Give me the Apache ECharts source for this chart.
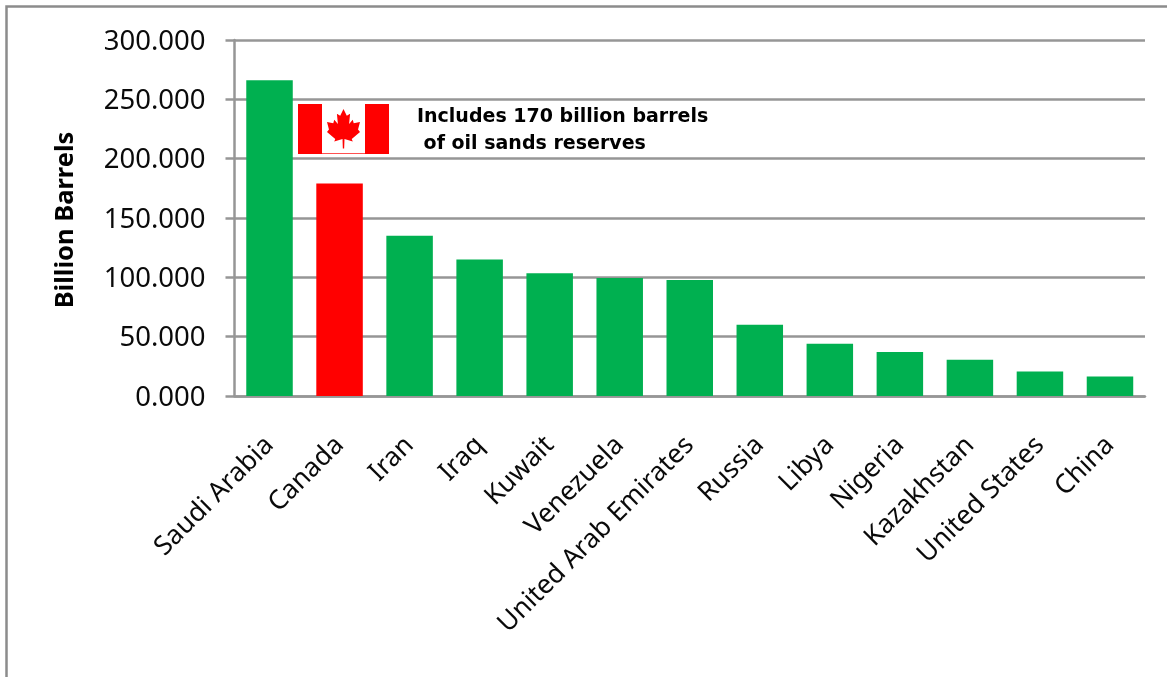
<!DOCTYPE html>
<html>
<head>
<meta charset="utf-8">
<style>html,body{margin:0;padding:0;background:#fff}#chart{width:1167px;height:677px}</style>
<script src="https://cdn.jsdelivr.net/npm/echarts@6/dist/echarts.min.js"></script>
</head>
<body>
<div id="chart"></div>
<script>
const countries = ['Saudi Arabia','Canada','Iran','Iraq','Kuwait','Venezuela','United Arab Emirates','Russia','Libya','Nigeria','Kazakhstan','United States','China'];
const reserves = [266, 179, 135, 115, 103.5, 99.5, 97.8, 60, 44, 37, 30.5, 20.7, 16.5];
const highlightCountry = 'Canada';
const yTicks = [0, 50, 100, 150, 200, 250, 300];
const noteLines = ['Includes 170 billion barrels', ' of oil sands reserves'];

const GREEN = '#00b050', RED = '#ff0000', GREY = '#969696', INK = '#0a0a0a';
const FONT = '"Noto Sans", "Open Sans", sans-serif';

// Maple leaf outline in a 0-100 box; scaled onto the flag's white band
const leafOutline = [[50,0],[40,17],[30,12],[33,38],[22,27],[19,36],[0,33],[6,52],[0,58],[25,76],[22,82],[47,76],[48,100],[52,100],[53,76],[78,82],[75,76],[100,58],[94,52],[100,33],[81,36],[78,27],[67,38],[70,12],[60,17]];
const leafBox = {x: 327, y: 109, width: 33, height: 39.5};
const leafPoints = leafOutline.map(([px, py]) => [
  leafBox.x + px / 100 * leafBox.width,
  leafBox.y + py / 100 * leafBox.height
]);

const chart = echarts.init(document.getElementById('chart'), null, {renderer: 'canvas'});
chart.setOption({
  animation: false,
  backgroundColor: '#fff',
  grid: {left: 234.5, right: 22, top: 40, bottom: 281, containLabel: false},
  xAxis: {
    type: 'category',
    data: countries,
    axisLine: {lineStyle: {color: GREY, width: 2.5}},
    axisTick: {show: false},
    axisLabel: {
      rotate: 45, interval: 0, margin: 45, color: INK, fontFamily: FONT, fontSize: 26.5
    }
  },
  yAxis: {
    type: 'value',
    min: yTicks[0],
    max: yTicks[yTicks.length - 1],
    interval: yTicks[1] - yTicks[0],
    name: 'Billion Barrels',
    nameLocation: 'middle',
    nameGap: 156,
    nameRotate: 90,
    nameTextStyle: {color: '#000', fontFamily: FONT, fontSize: 25.5, fontWeight: 'bold', padding: [0, 4, 0, 0]},
    axisLine: {show: true, lineStyle: {color: GREY, width: 2.5}},
    axisTick: {show: true, length: 9, lineStyle: {color: GREY, width: 2.5}},
    axisLabel: {
      margin: 29, color: INK, fontFamily: FONT, fontSize: 27.5,
      verticalAlign: 'top', lineHeight: 4,
      formatter: v => v.toFixed(3)
    },
    splitLine: {show: true, lineStyle: {color: GREY, width: 2.5}}
  },
  series: [{
    type: 'bar',
    barWidth: 46.5,
    data: reserves.map((v, i) => ({
      value: v,
      itemStyle: {color: countries[i] === highlightCountry ? RED : GREEN}
    }))
  }],
  graphic: [
    // Frame of the chart area, open at the bottom and right
    {type: 'polyline', silent: true, shape: {points: [[6.5, 677], [6.5, 6.5], [1167, 6.5]]},
      style: {stroke: '#8c8c8c', lineWidth: 2.5, fill: null}},
    // Canadian flag
    {type: 'rect', shape: {x: 298, y: 104, width: 91, height: 50}, style: {fill: '#fff'}},
    {type: 'rect', shape: {x: 298, y: 104, width: 24, height: 50}, style: {fill: RED}},
    {type: 'rect', shape: {x: 365, y: 104, width: 24, height: 50}, style: {fill: RED}},
    {type: 'rect', shape: {x: 322, y: 153, width: 43, height: 1}, style: {fill: '#ff5050'}},
    {type: 'polygon', shape: {points: leafPoints}, style: {fill: RED}},
    {type: 'text', x: 417, y: 117, style: {text: noteLines[0], fill: '#000', font: 'bold 19px "DejaVu Sans", sans-serif', verticalAlign: 'middle'}},
    {type: 'text', x: 417, y: 144, style: {text: noteLines[1], fill: '#000', font: 'bold 19px "DejaVu Sans", sans-serif', verticalAlign: 'middle'}}
  ]
});
</script>
</body>
</html>
